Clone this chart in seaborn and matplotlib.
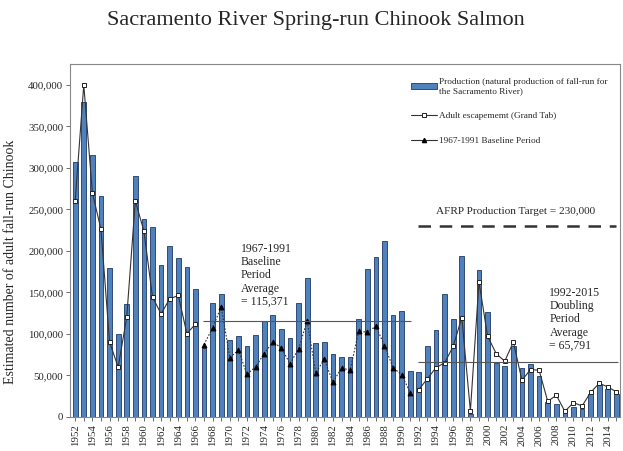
import matplotlib
matplotlib.use("Agg")
import matplotlib.pyplot as plt
import numpy as np
import pandas as pd
import seaborn as sns
from matplotlib.lines import Line2D
from matplotlib.patches import Patch

# data
years = np.arange(1952, 2016)
production = [306700, 379000, 315200, 265700, 179700, 99700, 135900, 290600,
              238000, 228300, 182900, 206200, 191800, 180900, 153600,
              83600, 136700, 147500, 92500, 98100, 85200, 98900, 115400,
              122600, 106500, 95700, 136700, 166800, 89600, 90400, 75600,
              72400, 72400, 118600, 178100, 193000, 212300, 123400, 127800,
              55500,
              54700, 85200, 105300, 148700, 118600, 193800, 4000, 176900,
              126600, 65100, 61500, 85200, 59500, 63500, 49000, 18100,
              15300, 4800, 12000, 10000, 28100, 38200, 34200, 28100]
escapement_early = [260100, 400000, 270100, 225900, 90450, 59900, 120200,
                    260100, 223900, 144300, 124200, 142300, 146300, 100500,
                    111800]
baseline = [87200, 107700, 132700, 71600, 80400, 51500, 60300, 76400, 90400,
            83200, 64300, 82000, 115800, 53100, 69500, 41800, 59100, 56300,
            103300, 102100, 109300, 86000, 59500, 50700, 29300]
escapement_late = [33000, 46200, 59500, 65100, 85200, 119800, 7200, 162800,
                   97300, 76400, 67100, 90400, 44200, 57100, 56300, 18900,
                   26100, 6800, 17300, 13300, 29700, 40600, 36200, 30200]
baseline_avg = 115371
doubling_avg = 65791
afrp_target = 230000

df = pd.DataFrame({"year": years, "production": production})
early = pd.DataFrame({"year": years[:15], "n": escapement_early})
base = pd.DataFrame({"year": years[15:40], "n": baseline})
late = pd.DataFrame({"year": years[40:], "n": escapement_late})

sns.set_theme(style="ticks")
plt.rcParams["font.family"] = ["Liberation Serif", "DejaVu Serif"]

fig = plt.figure(figsize=(6.23, 4.51), dpi=100)
ax = fig.add_axes([0.1124, 0.0754, 0.8826, 0.7826])

bar_color = "#4F81BD"
sns.barplot(data=df, x="year", y="production", native_scale=True, width=0.55,
            color=bar_color, edgecolor="#1F3864", linewidth=0.6,
            saturation=1, ax=ax)

sq = dict(marker="s", markersize=3.5, markerfacecolor="white",
          markeredgecolor="#222222", markeredgewidth=0.7)
for part in (early, late):
    sns.lineplot(data=part, x="year", y="n", color="#333333", linewidth=0.8,
                 ax=ax, **sq)
sns.lineplot(data=base, x="year", y="n", color="#333333", linewidth=0.8,
             linestyle=(0, (1.5, 1.5)), marker="^", markersize=3.5,
             markerfacecolor="black", markeredgecolor="black", ax=ax)

ax.hlines(baseline_avg, 1966.85, 1991.1, color="#555555", linewidth=0.8)
ax.hlines(doubling_avg, 1991.85, 2015.2, color="#555555", linewidth=0.8)
ax.hlines(afrp_target, 1991.85, 2015.0, color="#333333", linewidth=1.8,
          linestyles=(0, (5, 3.5)))

ax.text(1971.3, 210000, "1967-1991\nBaseline\nPeriod\nAverage\n= 115,371",
        fontsize=8.5, va="top", ha="left", linespacing=1.15)
ax.text(2007.2, 157000, "1992-2015\nDoubling\nPeriod\nAverage\n= 65,791",
        fontsize=8.5, va="top", ha="left", linespacing=1.15)
ax.text(2003.2, 247000, "AFRP Production Target = 230,000",
        fontsize=8.1, va="center", ha="center")

ax.set_xlim(1951.4, 2015.4)
ax.set_ylim(0, 425000)
ax.set_xticks(years)
ax.set_xticklabels([str(y) if y % 2 == 0 else "" for y in years],
                   rotation=90, fontsize=7.8)
ax.set_yticks(np.arange(0, 400001, 50000))
ax.set_yticklabels([f"{v:,}" for v in range(0, 400001, 50000)], fontsize=7.8)
ax.tick_params(axis="both", length=3, width=0.6, color="#555555", pad=2)
ax.set_xlabel("")
ax.set_ylabel("Estimated number of adult fall-run Chinook", fontsize=10)
ax.yaxis.set_label_coords(-0.097, 0.44)
for s in ax.spines.values():
    s.set_color("#888888")
    s.set_linewidth(0.8)

handles = [Patch(facecolor=bar_color, edgecolor="#1F3864", linewidth=0.6),
           Line2D([], [], color="#333333", linewidth=0.8, **sq),
           Line2D([], [], color="#333333", linewidth=0.8, marker="^",
                  markersize=3, markerfacecolor="black",
                  markeredgecolor="black")]
labels = ["Production (natural production of fall-run for\nthe Sacramento River)",
          "Adult escapememt (Grand Tab)",
          "1967-1991 Baseline Period"]
ax.legend(handles, labels, loc="upper left", bbox_to_anchor=(0.613, 0.972),
          frameon=False, fontsize=6.7, handlelength=2.8, handleheight=0.5,
          handletextpad=0.2, labelspacing=1.85, borderaxespad=0)

fig.suptitle("Sacramento River Spring-run Chinook Salmon", fontsize=16,
             x=0.507, y=0.975)

fig.savefig("out.png", dpi=100)
